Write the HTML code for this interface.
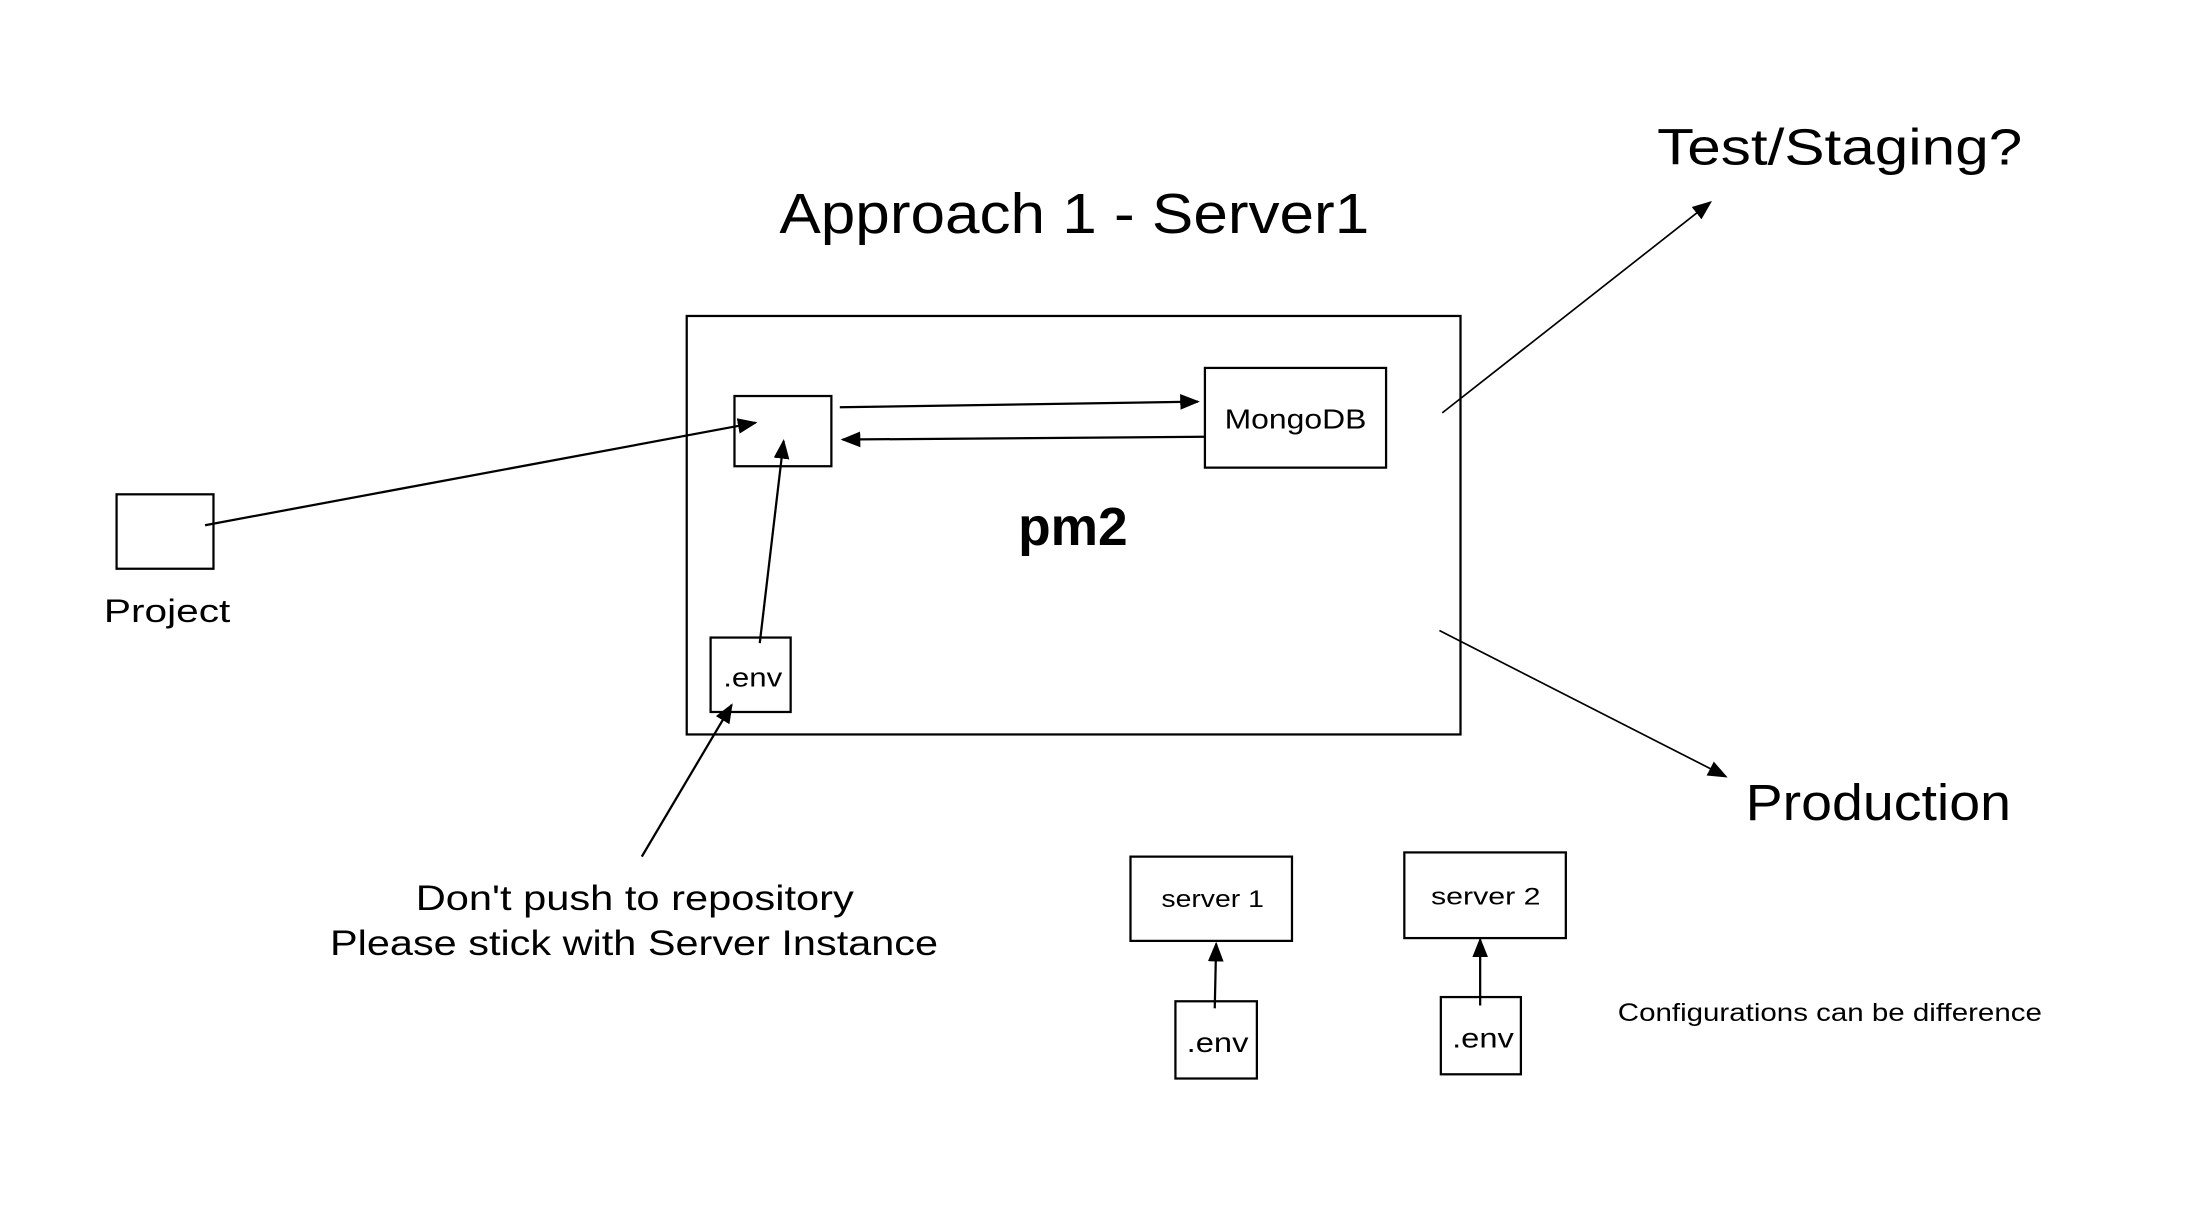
<!DOCTYPE html>
<html><head><meta charset="utf-8"><style>
html,body{margin:0;padding:0;background:#fff;}
svg{display:block;}
text{font-family:"Liberation Sans",sans-serif;fill:#000;}
</style></head><body>
<svg width="2202" height="1224" viewBox="0 0 1568 871.6" xmlns="http://www.w3.org/2000/svg">
<defs>
<marker id="b" viewBox="0 0 10 10" refX="9" refY="5" markerWidth="14" markerHeight="14" orient="auto" markerUnits="userSpaceOnUse">
<path d="M0,1 L10,5 L0,9 z" fill="#000"/></marker>
</defs>
<rect width="1568" height="872" fill="#fff"/>
<g fill="none" stroke="#000" stroke-width="1.6">
<rect x="489" y="225" width="551" height="298"/>
<rect x="523" y="282" width="69" height="50"/>
<rect x="858" y="262" width="129" height="71"/>
<rect x="83" y="352" width="69" height="53"/>
<rect x="506" y="454" width="57" height="53"/>
<rect x="805" y="610" width="115" height="60"/>
<rect x="1000" y="607" width="115" height="61"/>
<rect x="837" y="713" width="58" height="55"/>
<rect x="1026" y="710" width="57" height="55"/>
<line x1="598" y1="290" x2="853" y2="286" marker-end="url(#b)"/>
<line x1="858" y1="311" x2="600" y2="313" marker-end="url(#b)"/>
<line x1="146" y1="374" x2="538" y2="301" marker-end="url(#b)"/>
<line x1="541" y1="458" x2="558" y2="314" marker-end="url(#b)"/>
<line x1="457" y1="610" x2="521" y2="502" marker-end="url(#b)"/>
<line x1="1027" y1="294" x2="1218" y2="144" marker-end="url(#b)" stroke-width="1.2"/>
<line x1="1025" y1="449" x2="1229" y2="553" marker-end="url(#b)" stroke-width="1.2"/>
<line x1="865" y1="718" x2="866" y2="672" marker-end="url(#b)"/>
<line x1="1054" y1="716" x2="1054" y2="669" marker-end="url(#b)"/>
</g>
<text x="555" y="166" font-size="40" textLength="420" lengthAdjust="spacingAndGlyphs">Approach 1 - Server1</text>
<text x="1180" y="117" font-size="36" textLength="260" lengthAdjust="spacingAndGlyphs">Test/Staging?</text>
<text x="872" y="305" font-size="20" textLength="101" lengthAdjust="spacingAndGlyphs">MongoDB</text>
<text x="725" y="388" font-size="38" font-weight="bold" textLength="78" lengthAdjust="spacingAndGlyphs">pm2</text>
<text x="74" y="443" font-size="23" textLength="90" lengthAdjust="spacingAndGlyphs">Project</text>
<text x="515" y="489" font-size="19" textLength="42" lengthAdjust="spacingAndGlyphs">.env</text>
<text x="296" y="648" font-size="25" textLength="312" lengthAdjust="spacingAndGlyphs">Don't push to repository</text>
<text x="235" y="680" font-size="25" textLength="433" lengthAdjust="spacingAndGlyphs">Please stick with Server Instance</text>
<text x="1243" y="584" font-size="36" textLength="189" lengthAdjust="spacingAndGlyphs">Production</text>
<text x="827" y="646" font-size="17" textLength="73" lengthAdjust="spacingAndGlyphs">server 1</text>
<text x="1019" y="644" font-size="17" textLength="78" lengthAdjust="spacingAndGlyphs">server 2</text>
<text x="845" y="749" font-size="20" textLength="44" lengthAdjust="spacingAndGlyphs">.env</text>
<text x="1034" y="746" font-size="20" textLength="44" lengthAdjust="spacingAndGlyphs">.env</text>
<text x="1152" y="727" font-size="18" textLength="302" lengthAdjust="spacingAndGlyphs">Configurations can be difference</text>
</svg>
</body></html>
